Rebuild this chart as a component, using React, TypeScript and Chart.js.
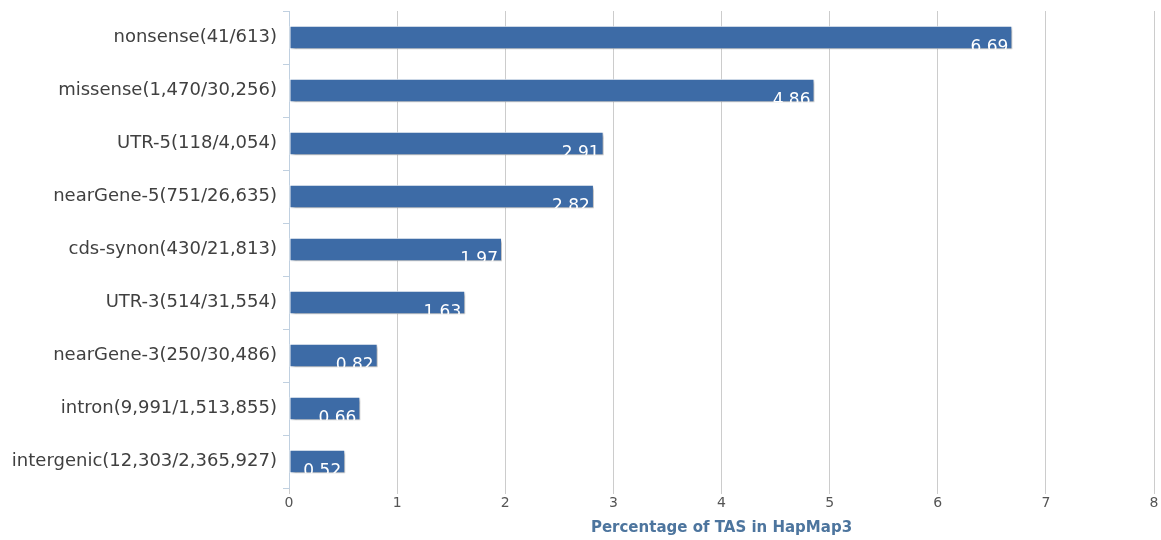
import React, { useEffect, useRef } from "react";
import { Chart, registerables } from "chart.js";

Chart.register(...registerables);

const categories = [
  "nonsense(41/613)",
  "missense(1,470/30,256)",
  "UTR-5(118/4,054)",
  "nearGene-5(751/26,635)",
  "cds-synon(430/21,813)",
  "UTR-3(514/31,554)",
  "nearGene-3(250/30,486)",
  "intron(9,991/1,513,855)",
  "intergenic(12,303/2,365,927)",
];
const values = [6.69, 4.86, 2.91, 2.82, 1.97, 1.63, 0.82, 0.66, 0.52];
const xTicks = [0, 1, 2, 3, 4, 5, 6, 7, 8];
const axisTitle = "Percentage of TAS in HapMap3";

const FONT = "'DejaVu Sans', 'Open Sans', sans-serif";

const shadowPlugin = {
  id: "barShadow",
  beforeDatasetsDraw(chart: any) {
    const ctx = chart.ctx;
    ctx.save();
    ctx.shadowColor = "rgba(0,0,0,0.35)";
    ctx.shadowOffsetX = 2;
    ctx.shadowOffsetY = 2;
    ctx.shadowBlur = 3;
  },
  afterDatasetsDraw(chart: any) {
    const ctx = chart.ctx;
    ctx.restore();
    const meta = chart.getDatasetMeta(0);
    meta.data.forEach((bar: any, i: number) => {
      const { x, y, base, height } = bar.getProps(["x", "y", "base", "height"], true);
      const top = y - height / 2;
      const bottom = y + height / 2;
      ctx.save();
      ctx.beginPath();
      ctx.rect(base, top, x - base, height);
      ctx.clip();
      ctx.fillStyle = "#ffffff";
      ctx.font = `17px ${FONT}`;
      ctx.textAlign = "right";
      ctx.textBaseline = "alphabetic";
      ctx.fillText(values[i].toFixed(2), x - 4, bottom + 3);
      ctx.restore();
    });
  },
};

export default function App() {
  const ref = useRef<HTMLCanvasElement | null>(null);
  useEffect(() => {
    document.body.style.margin = "0";
    const chart = new Chart(ref.current as HTMLCanvasElement, {
      type: "bar",
      data: {
        labels: categories,
        datasets: [
          {
            data: values,
            backgroundColor: "#3d6ba6",
            borderColor: "#ffffff",
            borderWidth: 1,
            borderSkipped: false,
            barPercentage: 0.44,
            categoryPercentage: 1,
          },
        ],
      },
      options: {
        indexAxis: "y",
        animation: false,
        responsive: false,
        layout: { padding: { top: 11, right: 7, left: 0, bottom: 0 } },
        plugins: { legend: { display: false }, tooltip: { enabled: false } },
        scales: {
          x: {
            min: 0,
            max: 8,
            afterBuildTicks: (scale: any) => {
              scale.ticks = xTicks.map((v) => ({ value: v }));
            },
            afterFit: (scale: any) => {
              scale.height = 52;
            },
            grid: {
              color: "#cccccc",
              lineWidth: 1,
              tickLength: 6,
              drawTicks: true,
            },
            border: { display: false },
            ticks: {
              color: "#555555",
              font: { family: FONT, size: 14 },
              padding: 1,
              maxRotation: 0,
            },
            title: {
              display: true,
              text: axisTitle,
              color: "#4d759e",
              font: { family: FONT, size: 15, weight: "bold" },
              padding: { top: 0, bottom: 3 },
            },
          },
          y: {
            afterFit: (scale: any) => {
              scale.width = 289;
              scale.paddingTop = 0;
              scale.paddingBottom = 0;
            },
            grid: {
              offset: true,
              drawOnChartArea: false,
              color: "#c0d0e0",
              tickLength: 6,
            },
            border: { display: true, color: "#c0d0e0" },
            ticks: {
              color: "#404040",
              font: { family: FONT, size: 18 },
              padding: 6,
            },
          },
        },
      },
      plugins: [shadowPlugin],
    });
    return () => chart.destroy();
  }, []);
  return (
    <div style={{ width: 1161, height: 540 }}>
      <canvas ref={ref} width={1161} height={540} />
    </div>
  );
}
